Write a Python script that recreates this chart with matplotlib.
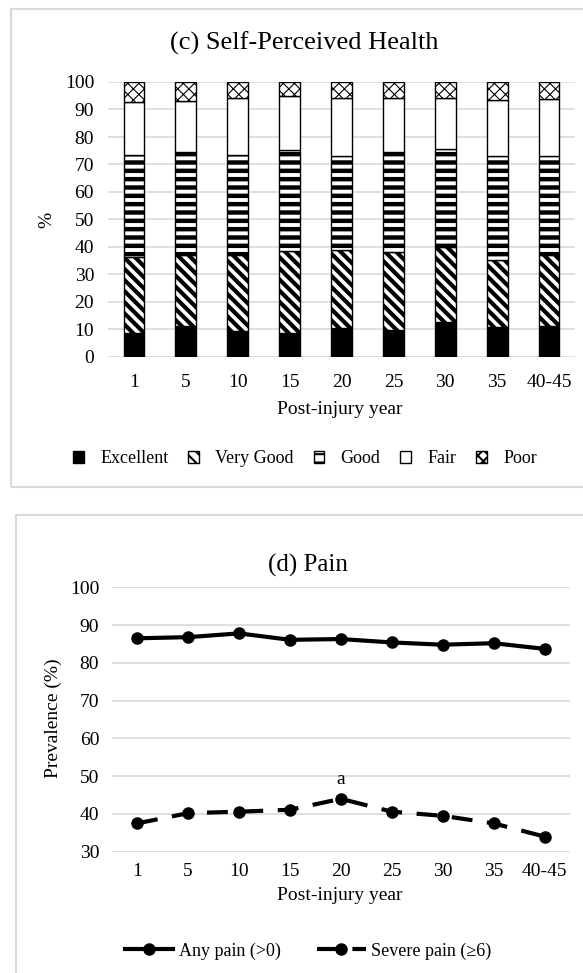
import numpy as np
import matplotlib
matplotlib.use("Agg")
import matplotlib.pyplot as plt
from matplotlib.patches import Rectangle

plt.rcParams['font.family'] = ['Liberation Serif', 'DejaVu Serif']

years = ['1', '5', '10', '15', '20', '25', '30', '35', '40-45']

# (c) self-perceived health, % per category
excellent = [8.7, 11.4, 9.3, 8.7, 10.5, 9.9, 12.9, 10.9, 11.4]
very_good = [27.8, 25.7, 27.8, 29.9, 28.4, 28.4, 27.2, 24.4, 25.7]
good = [36.9, 37.5, 36.3, 36.6, 34.1, 36.3, 35.7, 37.7, 35.9]
fair = [19.3, 18.5, 20.9, 19.6, 21.2, 19.6, 18.4, 20.3, 20.7]
poor = [7.3, 6.9, 5.7, 5.2, 5.8, 5.8, 5.8, 6.7, 6.3]
health_labels = ['Excellent', 'Very Good', 'Good', 'Fair', 'Poor']

# (d) pain prevalence
any_pain = [86.5, 86.8, 87.8, 86.1, 86.3, 85.4, 84.8, 85.2, 83.7]
severe_pain = [37.5, 40.2, 40.6, 41.1, 44.0, 40.6, 39.5, 37.5, 34.0]

W, H = 583, 973
fig = plt.figure(figsize=(W / 100, H / 100), dpi=100)

def fx(px):
    return px / W

def fy(py):
    return 1 - py / H

grid_c = '#d9d9d9'
fs = 14

# panel frames
fig.patches.append(Rectangle((fx(11), fy(487)), fx(600), 478 / H, transform=fig.transFigure,
                             fill=False, edgecolor=grid_c, lw=1.5))
fig.patches.append(Rectangle((fx(16), fy(990)), fx(600), 475 / H, transform=fig.transFigure,
                             fill=False, edgecolor=grid_c, lw=1.5))

# ---- (c) stacked bars
ax1 = fig.add_axes([fx(108), fy(357), fx(575 - 108), 275 / H])
x = np.arange(len(years))
series = [excellent, very_good, good, fair, poor]
styles = [('black', None, 1.0), ('white', '\\\\\\', 3.0), ('white', '--', 3.2),
          ('white', None, 1.0), ('white', 'xxx', 0.8)]
bottom = np.zeros(len(years))
handles = []
for vals, (fc, hatch, hlw), lab in zip(series, styles, health_labels):
    plt.rcParams['hatch.linewidth'] = hlw
    bars = ax1.bar(x, vals, 0.4, bottom=bottom, color=fc, edgecolor='black',
                   hatch=hatch, linewidth=1.0, label=lab, zorder=3)
    for b in bars:
        if hasattr(b, 'set_hatch_linewidth'):
            b.set_hatch_linewidth(hlw)
    handles.append(bars)
    bottom += np.array(vals)

ax1.set_xlim(-0.5, len(years) - 0.5)
ax1.set_ylim(0, 100)
ax1.set_yticks(range(0, 101, 10))
ax1.set_xticks(x)
ax1.set_xticklabels(years)
ax1.yaxis.grid(True, color=grid_c, lw=1.2, zorder=0)
for s in ax1.spines.values():
    s.set_visible(False)
ax1.tick_params(length=0, labelsize=fs, pad=12)
ax1.tick_params(axis='y', pad=10)
fig.text(fx(304), fy(43), '(c) Self-Perceived Health', ha='center', va='center', fontsize=19)
fig.text(fx(47), fy(220), '%', ha='center', va='center', fontsize=fs, rotation=90)
fig.text(fx(340), fy(409), 'Post-injury year', ha='center', va='center', fontsize=fs)
plt.rcParams['hatch.linewidth'] = 1.5
fig.legend(handles=handles, labels=health_labels, loc='center', ncol=5,
           bbox_to_anchor=(fx(305), fy(459)), frameon=False, fontsize=13,
           handlelength=0.6, handleheight=0.6, handletextpad=0.9, columnspacing=1.1)

# ---- (d) pain lines
ax2 = fig.add_axes([fx(111.7), fy(851.7), fx(570 - 111.7), (851.7 - 587.3) / H])
ax2.plot(x, any_pain, color='black', lw=3, marker='o', ms=8, label='Any pain (>0)', zorder=3)
ax2.plot(x, severe_pain, color='black', lw=3, marker='o', ms=8, dashes=(5, 3.5),
         label='Severe pain (≥6)', zorder=3)
ax2.annotate('a', (x[4], severe_pain[4]), xytext=(0, 8), textcoords='offset points',
             ha='center', va='bottom', fontsize=fs)
ax2.set_xlim(-0.5, len(years) - 0.5)
ax2.set_ylim(30, 100)
ax2.set_yticks(range(30, 101, 10))
ax2.set_xticks(x)
ax2.set_xticklabels(years)
ax2.yaxis.grid(True, color=grid_c, lw=1.2, zorder=0)
for s in ax2.spines.values():
    s.set_visible(False)
ax2.tick_params(length=0, labelsize=fs, pad=8)
ax2.tick_params(axis='y', pad=9)
fig.text(fx(308), fy(565), '(d) Pain', ha='center', va='center', fontsize=18)
fig.text(fx(53), fy(718), 'Prevalence (%)', ha='center', va='center', fontsize=fs, rotation=90)
fig.text(fx(340), fy(895), 'Post-injury year', ha='center', va='center', fontsize=fs)
fig.legend(handles=ax2.get_lines(), loc='center', ncol=2, bbox_to_anchor=(fx(308), fy(951)),
           frameon=False, fontsize=13, handlelength=2.7, handletextpad=0.3, columnspacing=2.0)

fig.savefig('out.png', dpi=100)
